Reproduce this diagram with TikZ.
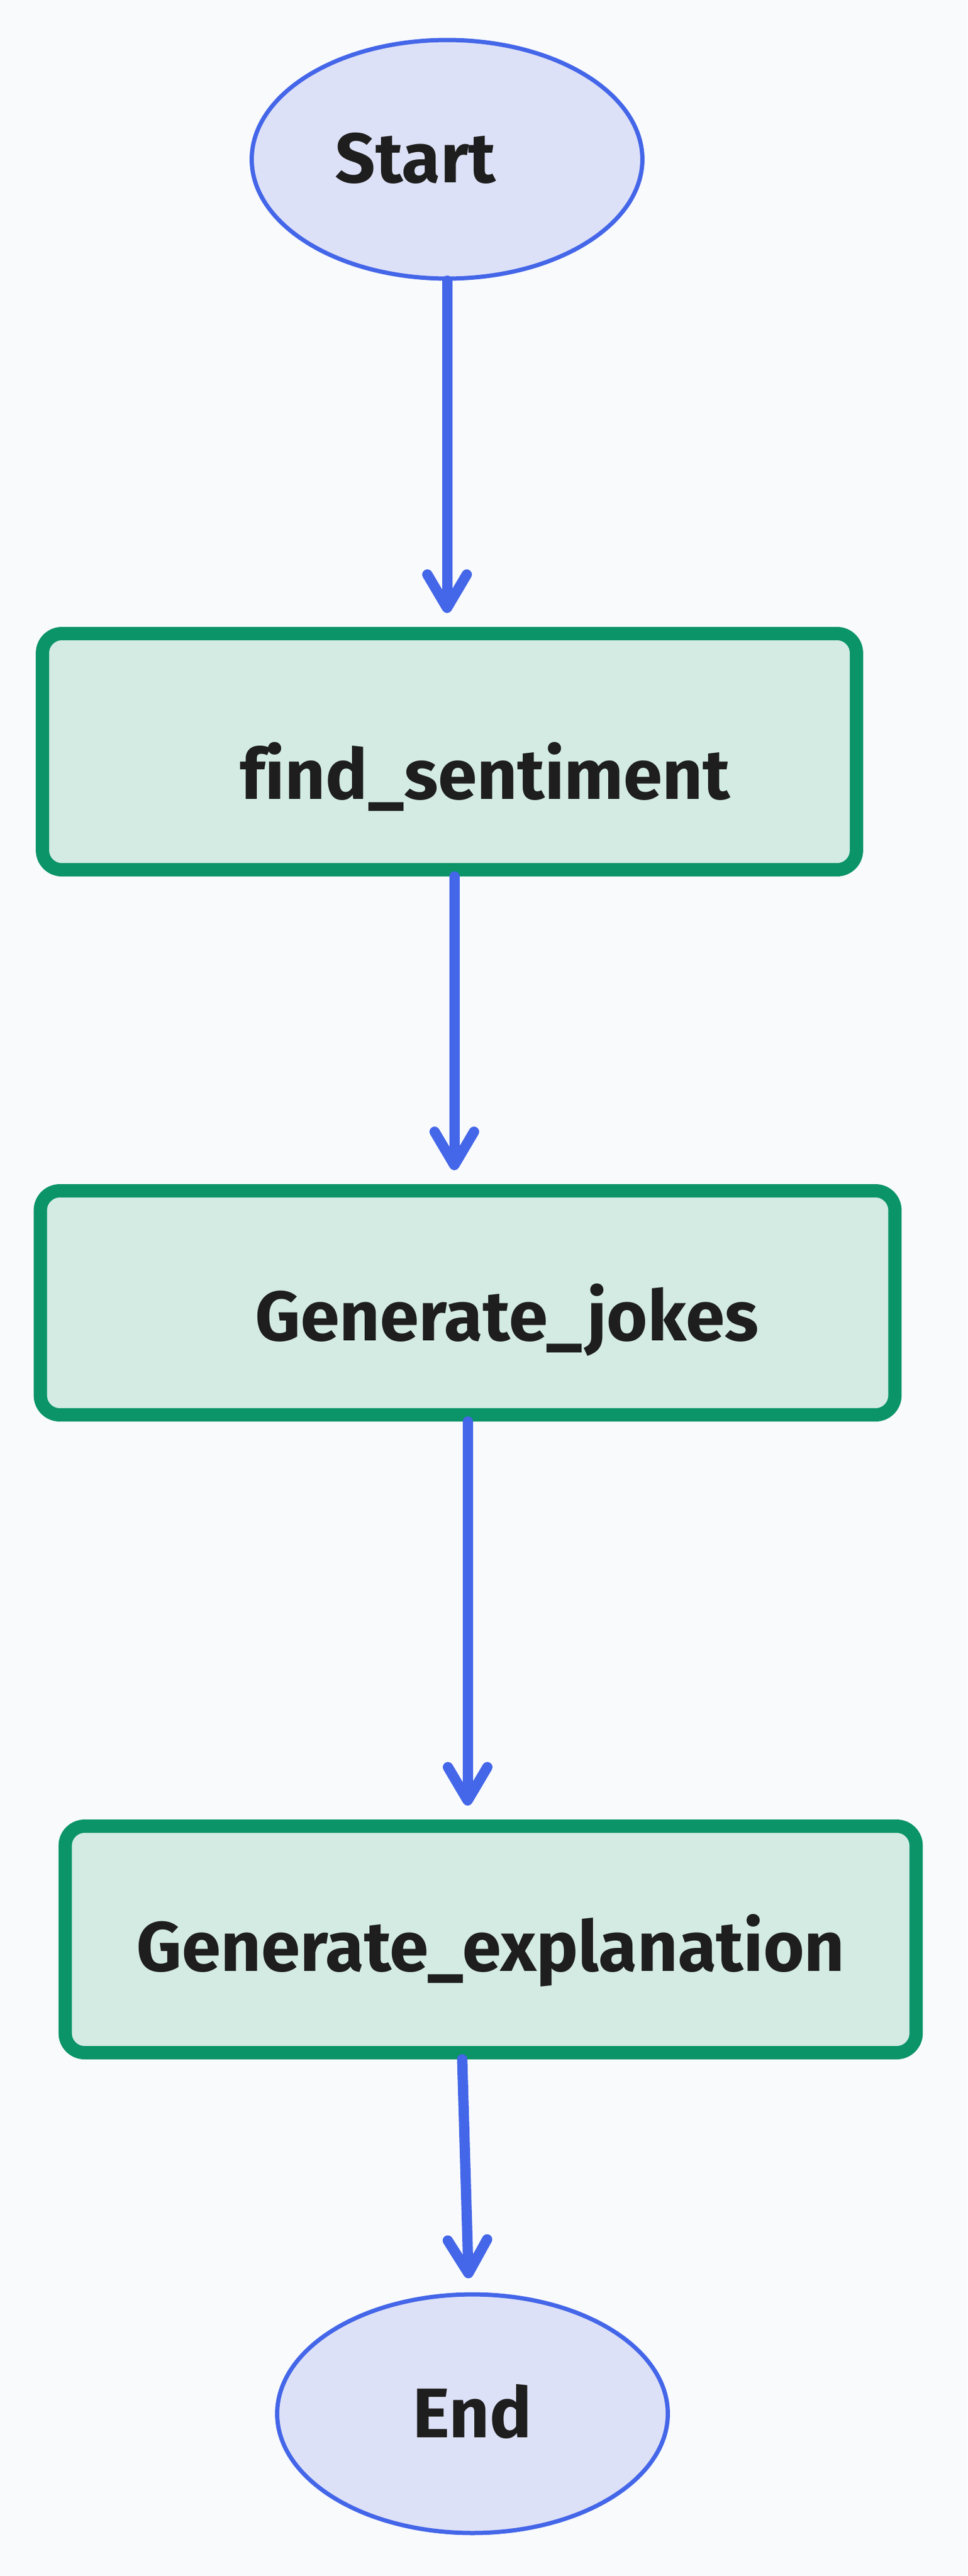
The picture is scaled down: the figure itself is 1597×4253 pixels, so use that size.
\documentclass[tikz,border=0pt]{standalone}
\usepackage{fontspec}
\setmainfont{Fira Sans}[Ligatures=NoCommon]
\usepackage{tikz}
\usetikzlibrary{shapes,arrows.meta}

\definecolor{flowblue}{HTML}{4466E8}
\definecolor{termfill}{HTML}{DDE1F7}
\definecolor{boxgreen}{HTML}{0A9468}
\definecolor{boxfill}{HTML}{D3EBE3}
\definecolor{bgcol}{HTML}{F8FAFC}
\definecolor{ink}{HTML}{1E1E1E}
\newcommand{\nodefont}{\fontsize{66}{78}\selectfont\bfseries}

\begin{document}
\begin{tikzpicture}[x={(0.02cm,0cm)},y={(0cm,-0.02cm)},
  term/.style={ellipse,draw=flowblue,fill=termfill,line width=0.14cm,
    minimum width=12.9cm,minimum height=7.88cm,text=ink,font=\nodefont},
  stepbox/.style={rectangle,rounded corners=0.64cm,draw=boxgreen,fill=boxfill,
    line width=0.44cm,text=ink,font=\nodefont},
  drop/.style={text height=#1,text depth=0pt},
  flow/.style={draw=flowblue,line width=0.34cm,line cap=round,
    -{Straight Barb[length=1.1cm,width=1.3cm,round]},shorten >=0.46cm}]
\useasboundingbox (0,0) rectangle (1597,4253);
\fill[bgcol] (0,0) rectangle (1597,4253);

% terminals and steps
\node[term,drop=1.52cm] (start) at (738,263) {Start\hspace*{2.08cm}};
\node[stepbox,drop=3.12cm,minimum width=26.88cm,minimum height=7.8cm] (find) at (742,1241) {\hspace*{2.36cm}find\_sentiment};
\node[stepbox,drop=2.48cm,minimum width=28.22cm,minimum height=7.4cm] (jokes) at (772,2151) {\hspace*{2.6cm}Generate\_jokes};
\node[stepbox,drop=2.08cm,minimum width=28.1cm,minimum height=7.48cm] (expl) at (810,3202) {Generate\_explanation};
\node[term,drop=1.56cm] (end) at (780,3985) {End};

% flow
\draw[flow] (start) -- (start |- find.north);
\draw[flow] ([xshift=0.16cm]find.south) -- ([xshift=0.16cm]find.south |- jokes.north);
\draw[flow] (jokes.south) -- (jokes.south |- expl.north);
\draw[flow] ([xshift=-0.94cm]expl.south) -- (end);
\end{tikzpicture}
\end{document}
